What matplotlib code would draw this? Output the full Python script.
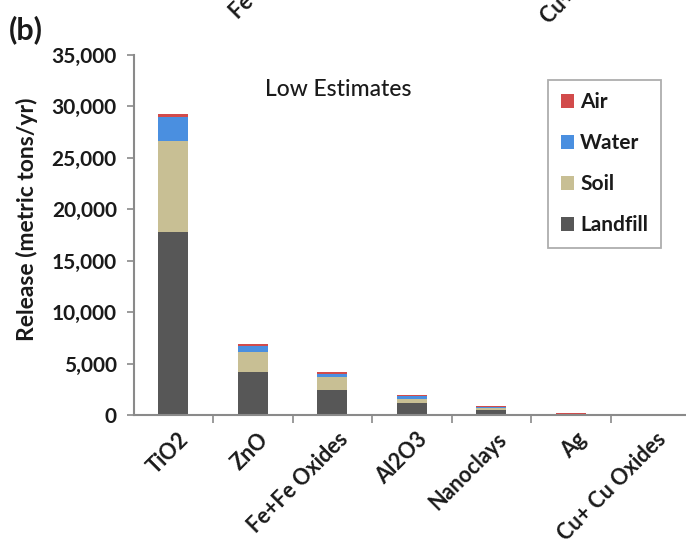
import matplotlib.pyplot as plt
import numpy as np
from matplotlib.ticker import FuncFormatter

plt.rcParams['font.family'] = ['Lato', 'DejaVu Sans']

# low-estimate releases per compartment (metric tons/yr)
materials = ["TiO2", "ZnO", "Fe+Fe Oxides", "Al2O3", "Nanoclays", "Ag", "Cu+ Cu Oxides"]
landfill = [17800, 4200, 2430, 1150, 450, 3, 5]
soil = [8800, 1950, 1230, 450, 250, 3, 5]
water = [2400, 600, 350, 200, 120, 3, 5]
air = [300, 200, 140, 150, 100, 180, 5]

series = [("Landfill", landfill, "#575757"),
          ("Soil", soil, "#c8bf94"),
          ("Water", water, "#4a8fe0"),
          ("Air", air, "#d24b4b")]


def main():
    fig = plt.figure(figsize=(6.86, 5.41), dpi=100)
    ax = fig.add_axes([133.5 / 686, 126 / 541, (690 - 133.5) / 686, 360 / 541])

    x = np.arange(len(materials))
    bottom = np.zeros(len(materials))
    handles = {}
    for name, vals, color in series:
        vals = np.array(vals, dtype=float)
        handles[name] = ax.bar(x, vals, 0.38, bottom=bottom, color=color,
                               edgecolor="none", label=name)
        bottom += vals

    ax.set_xlim(-0.5, len(materials) - 0.5)
    ax.set_ylim(0, 35000)
    ax.set_yticks(np.arange(0, 35001, 5000))
    ax.yaxis.set_major_formatter(FuncFormatter(lambda v, p: "{:,.0f}".format(v)))

    # labels sit under each bar, tick marks between categories
    ax.set_xticks(x + 0.06)
    ax.set_xticklabels(materials, rotation=45, ha="right", rotation_mode="anchor",
                       fontsize=15.5, fontweight="bold", color="#1a1a1a")
    ax.set_xticks(np.arange(0.5, len(materials) - 0.5, 1), minor=True)
    ax.tick_params(axis="x", which="major", length=0, pad=10)
    ax.tick_params(axis="x", which="minor", length=6, width=1.2, color="#8a8a8a")
    ax.tick_params(axis="y", length=5, width=1.2, color="#8a8a8a", labelsize=15,
                   labelcolor="#1a1a1a", pad=7)
    for lab in ax.get_yticklabels():
        lab.set_fontweight("bold")

    for side in ("top", "right"):
        ax.spines[side].set_visible(False)
    for side in ("left", "bottom"):
        ax.spines[side].set_color("#8a8a8a")
        ax.spines[side].set_linewidth(1.5)

    ax.set_ylabel("Release (metric tons/yr)", fontsize=16.5, fontweight="bold",
                  color="#1a1a1a")
    ax.yaxis.set_label_coords(-0.172, 0.544)

    ax.text(0.368, 0.905, "Low Estimates", transform=ax.transAxes, fontsize=16.5,
            ha="center", va="center", color="#1a1a1a", fontweight="medium")

    order = ["Air", "Water", "Soil", "Landfill"]
    leg = ax.legend([handles[n] for n in order], order, loc="upper left",
                    bbox_to_anchor=(548 / 686, 1 - 80 / 541), bbox_transform=fig.transFigure,
                    prop={"weight": "bold", "size": 15},
                    handlelength=0.65, handleheight=0.65, handletextpad=0.3,
                    labelspacing=1.0, borderpad=0.6, fancybox=False,
                    edgecolor="#9a9a9a", borderaxespad=0)
    leg.get_frame().set_linewidth(1.3)
    for t in leg.get_texts():
        t.set_color("#1a1a1a")

    fig.text(9 / 686, 1 - 30 / 541, "(b)", fontsize=22, fontweight="bold",
             ha="left", va="center", color="#1a1a1a")

    # labels of the panel above, cut off at the top edge
    fig.text(238 / 686, 1 - 20 / 541, "Fe+Fe Oxides", fontsize=15.5, fontweight="bold",
             rotation=45, rotation_mode="anchor", ha="left", va="baseline", color="#1a1a1a")
    fig.text(549 / 686, 1 - 25 / 541, "Cu+ Cu Oxides", fontsize=15.5, fontweight="bold",
             rotation=45, rotation_mode="anchor", ha="left", va="baseline", color="#1a1a1a")

    fig.savefig("out.png", dpi=100)


if __name__ == "__main__":
    main()
